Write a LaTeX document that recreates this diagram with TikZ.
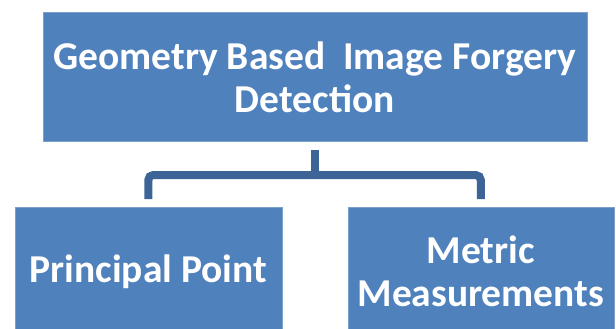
\documentclass[tikz,border=0pt]{standalone}
\usepackage{fontspec}
\setmainfont{Carlito}
\definecolor{azulcaixa}{HTML}{4F81BD}
\definecolor{azulligacao}{HTML}{3C6496}

\begin{document}
\begin{tikzpicture}[x=1pt,y=-1pt,
    caixa/.style={fill=azulcaixa, draw=azulcaixa!75!white, line width=0.6pt,
        text=white, font=\fontsize{39.5}{43}\selectfont\bfseries, align=center,
        inner sep=0pt, anchor=north west},
    ligacao/.style={draw=azulligacao, line width=8pt}]

    % Margens da figura
    \useasboundingbox (0,0) rectangle (616,329);

    % Caixas
    \node[caixa, minimum width=544pt, minimum height=129pt] (geo) at (42.5,12)
        {Geometry Based~~Image Forgery\\Detection};
    \node[caixa, minimum width=267pt, minimum height=128pt] (pp) at (14.5,207)
        {Principal Point};
    \node[caixa, minimum width=266pt, minimum height=128pt] (mm) at (347.5,207)
        {Metric\\Measurements};

    % Ligações
    \coordinate (ramo) at (geo.south |- 0,175);
    \draw[ligacao] ([yshift=-8pt]geo.south) -- (ramo);
    \draw[ligacao, rounded corners=5pt] ([yshift=8pt]pp.north) |- (ramo) -| ([yshift=8pt]mm.north);

\end{tikzpicture}
\end{document}
